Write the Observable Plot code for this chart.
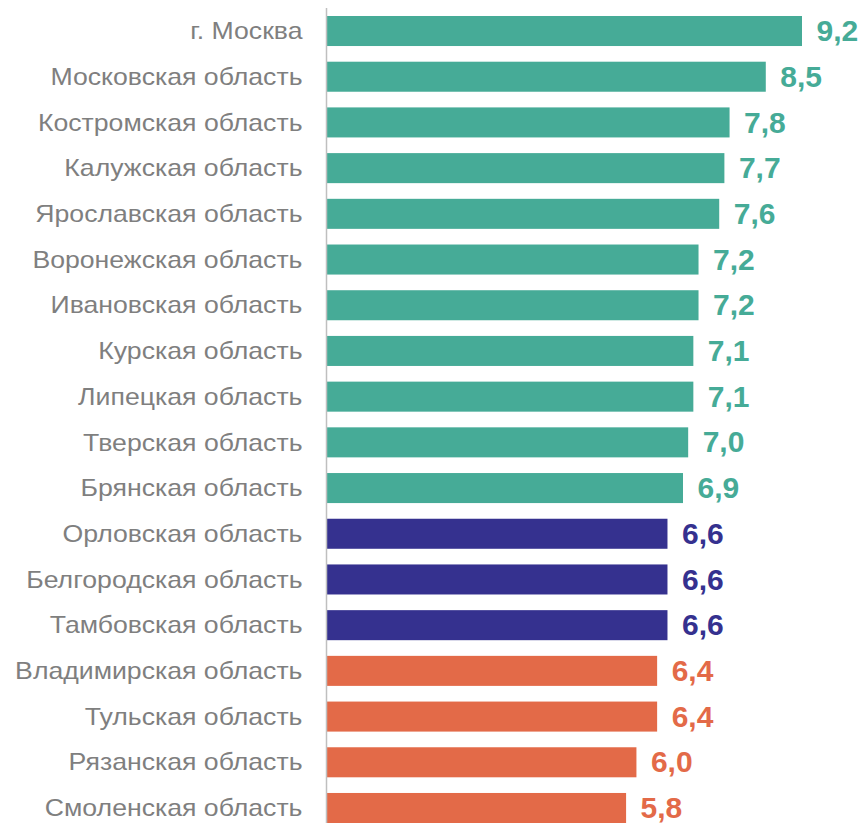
<!DOCTYPE html>
<html>
<head>
<meta charset="utf-8">
<script src="https://cdn.jsdelivr.net/npm/d3@7"></script>
<script src="https://cdn.jsdelivr.net/npm/@observablehq/plot@0.6"></script>
<style>
  body { margin: 0; background: #fff; }
  #chart svg { display: block; }
</style>
</head>
<body>
<div id="chart"></div>
<script>
const regions = ["г. Москва","Московская область","Костромская область","Калужская область","Ярославская область","Воронежская область","Ивановская область","Курская область","Липецкая область","Тверская область","Брянская область","Орловская область","Белгородская область","Тамбовская область","Владимирская область","Тульская область","Рязанская область","Смоленская область"];
const values = [9.2,8.5,7.8,7.7,7.6,7.2,7.2,7.1,7.1,7.0,6.9,6.6,6.6,6.6,6.4,6.4,6.0,5.8];
const groups = ["high","high","high","high","high","high","high","high","high","high","high","mid","mid","mid","low","low","low","low"];
const groupNames = ["high","mid","low"];
const groupColors = ["#46AB97","#35318F","#E36A48"];

const data = regions.map((r, i) => ({region: r, value: values[i], group: groups[i]}));
const fmt = v => v.toFixed(1).replace(".", ",");

const chart = Plot.plot({
  width: 866,
  height: 823,
  marginLeft: 326,
  marginRight: 64,
  marginTop: 16,
  marginBottom: 0,
  style: {fontFamily: "'Liberation Sans', Arial, sans-serif", background: "#fff"},
  x: {domain: [0, 9.2], axis: null},
  y: {domain: regions, paddingInner: 0.343, paddingOuter: 0, round: false, axis: null},
  color: {domain: groupNames, range: groupColors},
  marks: [
    Plot.barX(data, {y: "region", x: "value", fill: "group"}),
    Plot.ruleX([0], {stroke: "#BFBFBF", strokeWidth: 1.5, insetTop: -8}),
    Plot.text(data, {y: "region", x: 0, text: "region", textAnchor: "end", dx: -24, fill: "#7F7F7F", fontSize: 24}),
    Plot.text(data, {y: "region", x: "value", text: d => fmt(d.value), textAnchor: "start", dx: 14, fill: "group", fontSize: 30, fontWeight: "bold"})
  ]
});
document.getElementById("chart").appendChild(chart);

// the reference's category labels are slightly wider than Arial's natural width
const textGroups = chart.querySelectorAll('g[aria-label="text"]');
if (textGroups.length) {
  textGroups[0].querySelectorAll("text").forEach(t => {
    const w = t.getComputedTextLength();
    t.setAttribute("textLength", (w * 1.11).toFixed(1));
    t.setAttribute("lengthAdjust", "spacingAndGlyphs");
  });
}
</script>
</body>
</html>
